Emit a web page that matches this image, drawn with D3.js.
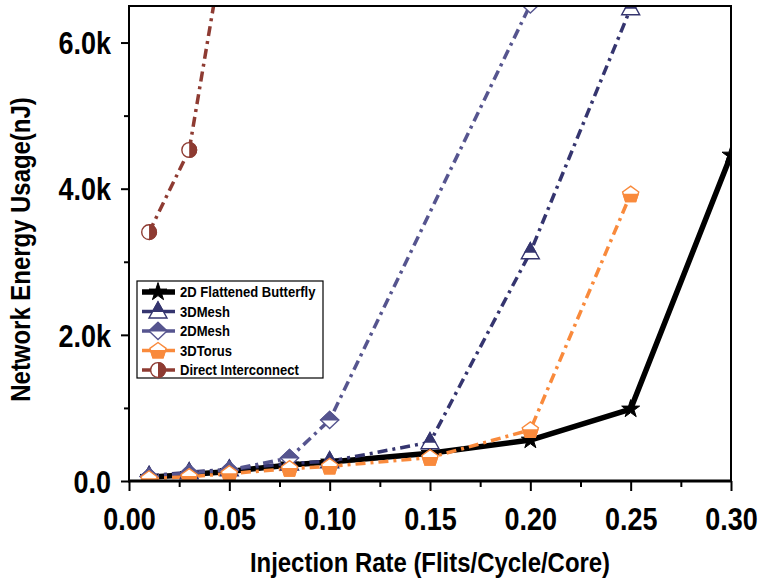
<!DOCTYPE html>
<html>
<head>
<meta charset="utf-8">
<script src="https://cdn.jsdelivr.net/npm/d3@7/dist/d3.min.js"></script>
<style>
  html, body { margin: 0; padding: 0; background: #fff; }
  svg { display: block; font-family: "Liberation Sans", Arial, sans-serif; }
</style>
</head>
<body>
<svg id="chart" width="760" height="582"></svg>
<script>
// Injection rates (flits/cycle/core) sampled for every topology
const rates = [0.01, 0.03, 0.05, 0.08, 0.10, 0.15, 0.20, 0.25, 0.30];

// Network energy usage (nJ) per topology; null = not measured
const butterfly2D   = [50, 90, 130, 220, 260, 380, 560, 985, 4460];
const mesh3D        = [70, 120, 160, 240, 270, 530, 3130, 6470, null];
const mesh2D        = [60, 110, 150, 315, 835, null, 6520, null, null];
const torus3D       = [30, 60, 100, 170, 200, 320, 700, 3925, null];
const directConnect = [3405, 4530, 7780, null, null, null, null, null, null];

const seriesNames = ["2D Flattened Butterfly", "3DMesh", "2DMesh", "3DTorus", "Direct Interconnect"];
const xTickLabels = ["0.00", "0.05", "0.10", "0.15", "0.20", "0.25", "0.30"];
const yTickLabels = ["0.0", "2.0k", "4.0k", "6.0k"];

const series = [
  { name: seriesNames[0], values: butterfly2D,   color: "#000000", shape: "star",     half: null,    width: 5.5, dash: null },
  { name: seriesNames[1], values: mesh3D,        color: "#35356f", shape: "triangle", half: "top",   width: 3.5, dash: "10,5,3,5" },
  { name: seriesNames[2], values: mesh2D,        color: "#56558f", shape: "diamond",  half: "top",   width: 3.5, dash: "10,5,3,5" },
  { name: seriesNames[3], values: torus3D,       color: "#f98a3c", shape: "pentagon", half: "bottom",width: 3.5, dash: "10,5,3,5" },
  { name: seriesNames[4], values: directConnect, color: "#8e3b32", shape: "circle",   half: "right", width: 3.5, dash: "10,5,3,5" }
];

// narrow, tall lettering used throughout the figure
const SQUEEZE = 0.87;

const svg = d3.select("#chart");
const plot = { left: 129, right: 731, top: 6, bottom: 481 };

const x = d3.scaleLinear().domain([0, 0.30]).range([plot.left, plot.right]);
const y = d3.scaleLinear().domain([0, 6500]).range([plot.bottom, plot.top]);

const defs = svg.append("defs");
defs.append("clipPath").attr("id", "plot-clip")
  .append("rect")
  .attr("x", plot.left).attr("y", plot.top)
  .attr("width", plot.right - plot.left).attr("height", plot.bottom - plot.top);

// half-marker clip regions in marker-local coordinates
const halves = {
  top:    { x: -20, y: -20, w: 40, h: 20.5 },
  bottom: { x: -20, y: -0.5, w: 40, h: 20.5 },
  right:  { x: 0, y: -20, w: 20, h: 40 }
};
Object.entries(halves).forEach(([k, r]) => {
  defs.append("clipPath").attr("id", "half-" + k)
    .append("rect").attr("x", r.x).attr("y", r.y).attr("width", r.w).attr("height", r.h);
});

function shapePath(shape) {
  if (shape === "triangle") {
    return "M0,-9.5L9,6.5L-9,6.5Z";
  }
  if (shape === "diamond") {
    return "M0,-8.5L9,0L0,8.5L-9,0Z";
  }
  if (shape === "pentagon") {
    const pts = d3.range(5).map(i => {
      const a = -Math.PI / 2 + i * 2 * Math.PI / 5;
      return [8.5 * Math.cos(a), 8.5 * Math.sin(a) + 0.5];
    });
    return "M" + pts.map(p => p.join(",")).join("L") + "Z";
  }
  if (shape === "circle") {
    return d3.symbol(d3.symbolCircle, 170)();
  }
  return d3.symbol(d3.symbolStar, 100)();
}

function drawMarker(g, s) {
  const d = shapePath(s.shape);
  if (s.shape === "star") {
    g.append("path").attr("d", d).attr("fill", s.color).attr("stroke", s.color).attr("stroke-width", 1);
    return;
  }
  g.append("path").attr("d", d).attr("fill", "#fff").attr("stroke", s.color).attr("stroke-width", 1.4);
  g.append("path").attr("d", d).attr("fill", s.color).attr("stroke", s.color).attr("stroke-width", 1.4)
    .attr("clip-path", "url(#half-" + s.half + ")");
}

// axis ticks
const xAxis = d3.axisBottom(x).tickValues(d3.range(0, 0.301, 0.05)).tickSize(10).tickFormat((d, i) => xTickLabels[i]);
const xMinor = d3.axisBottom(x).tickValues(d3.range(0.025, 0.3, 0.05)).tickSize(6).tickFormat("");
const yAxis = d3.axisLeft(y).tickValues([0, 2000, 4000, 6000]).tickSize(8).tickFormat((d, i) => yTickLabels[i]);
const yMinor = d3.axisLeft(y).tickValues([1000, 3000, 5000]).tickSize(5).tickFormat("");

function styleAxis(g) {
  g.select(".domain").remove();
  g.selectAll(".tick line").attr("stroke", "#000").attr("stroke-width", 2);
}

svg.append("g").attr("transform", `translate(0,${plot.bottom})`).call(xMinor).call(styleAxis);
const gx = svg.append("g").attr("transform", `translate(0,${plot.bottom})`).call(xAxis).call(styleAxis);
gx.selectAll(".tick text")
  .attr("x", null).attr("y", null).attr("dy", null)
  .attr("transform", `translate(0,49) scale(${SQUEEZE},1)`)
  .attr("font-size", 31).attr("font-weight", "bold").attr("fill", "#000")
  .attr("font-family", "Liberation Sans, Arial, sans-serif");

svg.append("g").attr("transform", `translate(${plot.left},0)`).call(yMinor).call(styleAxis);
const gy = svg.append("g").attr("transform", `translate(${plot.left},0)`).call(yAxis).call(styleAxis);
gy.selectAll(".tick text")
  .attr("x", null).attr("dy", "0.36em")
  .attr("transform", `translate(-18,0) scale(${SQUEEZE},1)`)
  .attr("font-size", 31).attr("font-weight", "bold").attr("fill", "#000")
  .attr("font-family", "Liberation Sans, Arial, sans-serif");

// data
const dataLayer = svg.append("g").attr("clip-path", "url(#plot-clip)");
const line = d3.line().defined(d => d[1] != null).x(d => x(d[0])).y(d => y(d[1]));

series.forEach(s => {
  const pts = rates.map((r, i) => [r, s.values[i]]).filter(d => d[1] != null);
  dataLayer.append("path")
    .datum(pts)
    .attr("d", line)
    .attr("fill", "none")
    .attr("stroke", s.color)
    .attr("stroke-width", s.width)
    .attr("stroke-linejoin", "round")
    .attr("stroke-dasharray", s.dash);
});
series.forEach(s => {
  rates.forEach((r, i) => {
    const v = s.values[i];
    if (v == null) return;
    const g = dataLayer.append("g").attr("transform", `translate(${x(r)},${y(v)})`);
    drawMarker(g, s);
  });
});

// plot frame
svg.append("rect")
  .attr("x", plot.left).attr("y", plot.top)
  .attr("width", plot.right - plot.left).attr("height", plot.bottom - plot.top)
  .attr("fill", "none").attr("stroke", "#000").attr("stroke-width", 2);
svg.append("line")
  .attr("x1", plot.left - 1).attr("x2", plot.right + 1)
  .attr("y1", plot.bottom).attr("y2", plot.bottom)
  .attr("stroke", "#000").attr("stroke-width", 3);

// axis titles
svg.append("text")
  .attr("transform", `translate(${(plot.left + plot.right) / 2},572) scale(${SQUEEZE},1)`)
  .attr("text-anchor", "middle")
  .attr("font-size", 27.5).attr("font-weight", "bold")
  .text("Injection Rate (Flits/Cycle/Core)");
svg.append("text")
  .attr("transform", `translate(30,${(plot.top + plot.bottom) / 2 + 6}) rotate(-90) scale(${SQUEEZE},1)`)
  .attr("text-anchor", "middle")
  .attr("font-size", 27.5).attr("font-weight", "bold")
  .text("Network Energy Usage(nJ)");

// legend
const legend = svg.append("g").attr("transform", "translate(137,281)");
legend.append("rect").attr("width", 186).attr("height", 97)
  .attr("fill", "#fff").attr("stroke", "#000").attr("stroke-width", 1.2);
series.forEach((s, i) => {
  const row = legend.append("g").attr("transform", `translate(0,${11 + i * 19.5})`);
  row.append("line").attr("x1", 5).attr("x2", 38).attr("y1", 0).attr("y2", 0)
    .attr("stroke", s.color).attr("stroke-width", s.width);
  const m = row.append("g").attr("transform", "translate(21,0)");
  drawMarker(m, s);
  row.append("text")
    .attr("transform", `translate(43,0) scale(${SQUEEZE},1)`)
    .attr("dy", "0.36em")
    .attr("font-size", 15).attr("font-weight", "bold").text(s.name);
});
</script>
</body>
</html>
